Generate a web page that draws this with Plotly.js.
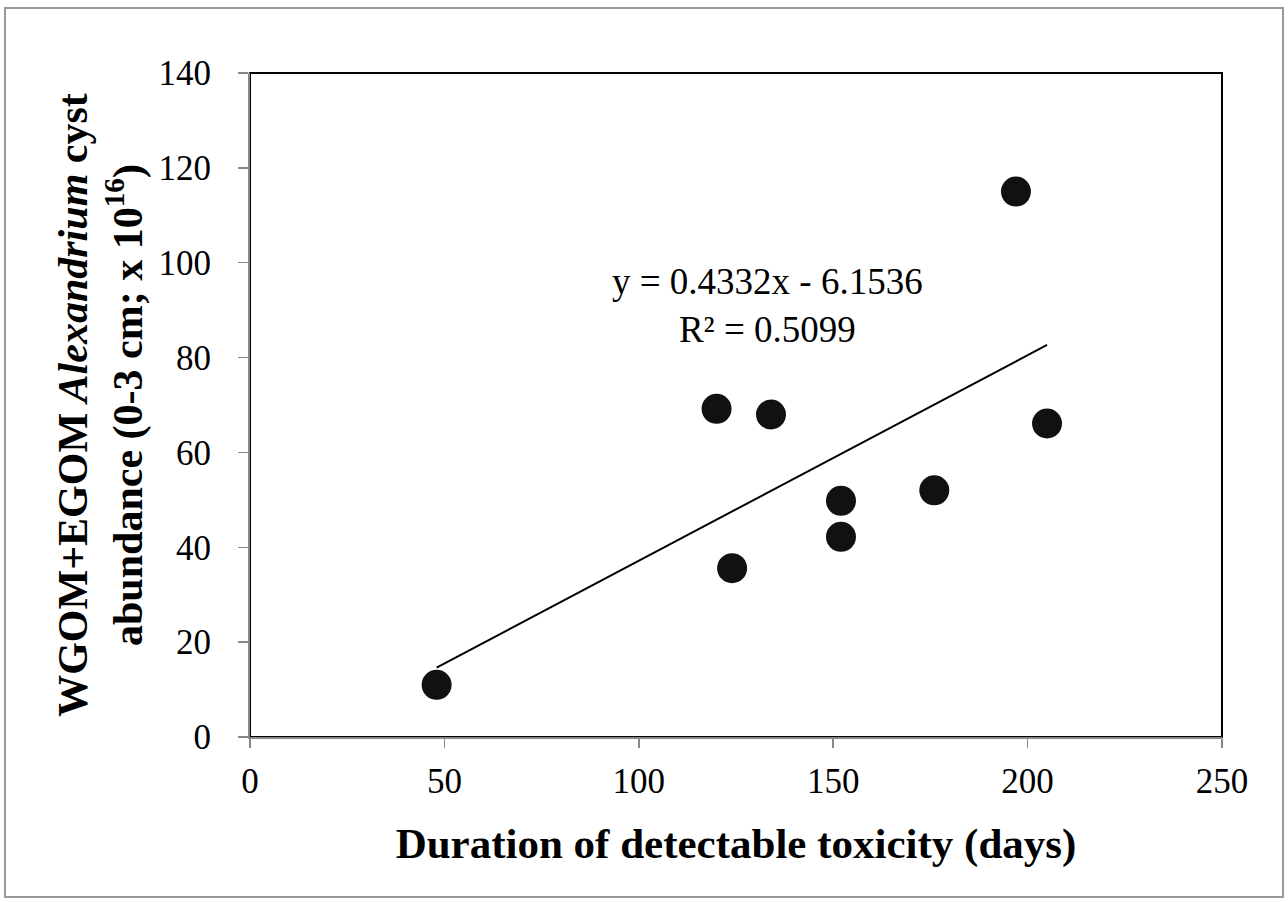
<!DOCTYPE html>
<html>
<head>
<meta charset="utf-8">
<script src="https://cdn.plot.ly/plotly-3.0.1.min.js"></script>
<style>html,body{margin:0;padding:0;background:#fff;}#chart{width:1288px;height:902px;}</style>
</head>
<body>
<div id="chart"></div>
<script>
// Data
const durationDays = [48, 120, 134, 124, 152, 152, 176, 197, 205];
const cystAbundance = [11, 69.2, 68, 35.6, 49.8, 42.2, 52, 115, 66.1];
const trendSlope = 0.4332;
const trendIntercept = -6.1536;
const rSquared = 0.5099;
const xTicks = [0, 50, 100, 150, 200, 250];
const yTicks = [0, 20, 40, 60, 80, 100, 120, 140];

const xMin = Math.min(...durationDays);
const xMax = Math.max(...durationDays);
const trendX = [xMin, xMax];
const trendY = trendX.map(v => trendSlope * v + trendIntercept);

const font = "'Liberation Serif', 'Times New Roman', serif";

const traces = [
  {
    x: trendX, y: trendY, type: 'scatter', mode: 'lines',
    line: {color: '#000', width: 2}, hoverinfo: 'skip', showlegend: false
  },
  {
    x: durationDays, y: cystAbundance, type: 'scatter', mode: 'markers',
    marker: {color: '#111', size: 30, line: {width: 0}}, showlegend: false
  }
];

// plot area: 250..1222 px horizontally, 73..737 px vertically
const W = 972, H = 664, L = 250, T = 73;
function px(x) { return (x - L) / W; }
function py(y) { return (T + H - y) / H; }

const layout = {
  width: 1288, height: 902,
  margin: {l: 250, r: 66, t: 73, b: 165},
  paper_bgcolor: '#fff', plot_bgcolor: '#fff',
  font: {family: font, color: '#000'},
  xaxis: {
    range: [0, 250], tickvals: xTicks, ticktext: xTicks.map(String),
    showgrid: false, zeroline: false,
    showline: true, linecolor: '#888', linewidth: 2,
    ticks: 'outside', ticklen: 9, tickwidth: 1.5, tickcolor: '#888',
    tickfont: {family: font, size: 35, color: '#000'},
    ticklabelstandoff: 3,
    title: {text: '<b>Duration of detectable toxicity (days)</b>', font: {family: font, size: 43, color: '#000'}, standoff: 28}
  },
  yaxis: {
    range: [0, 140], tickvals: yTicks, ticktext: yTicks.map(String),
    showgrid: false, zeroline: false,
    showline: true, linecolor: '#888', linewidth: 2,
    ticks: 'outside', ticklen: 10, tickwidth: 1.5, tickcolor: '#888',
    tickfont: {family: font, size: 35, color: '#000'},
    ticklabelstandoff: 20,
    title: {text: '<b>WGOM+EGOM <i>Alexandrium</i> cyst<br>abundance (0-3 cm; x 10<sup>16</sup>)</b>', font: {family: font, size: 42, color: '#000'}, standoff: 3}
  },
  shapes: [
    {type: 'rect', xref: 'paper', yref: 'paper', x0: 0, x1: 1, y0: 0, y1: 1,
     line: {color: '#000', width: 2}, layer: 'below'},
    {type: 'rect', xref: 'paper', yref: 'paper', x0: px(5), x1: px(1283), y0: py(897), y1: py(8),
     line: {color: '#999', width: 2}, layer: 'below'}
  ],
  annotations: [
    {xref: 'x', yref: 'y', x: 133, y: 91, showarrow: false,
     text: 'y = ' + trendSlope.toFixed(4) + 'x - ' + Math.abs(trendIntercept).toFixed(4) + '<br>R² = ' + rSquared.toFixed(4),
     font: {family: font, size: 37, color: '#000'}, align: 'center'}
  ]
};

Plotly.newPlot('chart', traces, layout, {displayModeBar: false, staticPlot: true});
</script>
</body>
</html>
